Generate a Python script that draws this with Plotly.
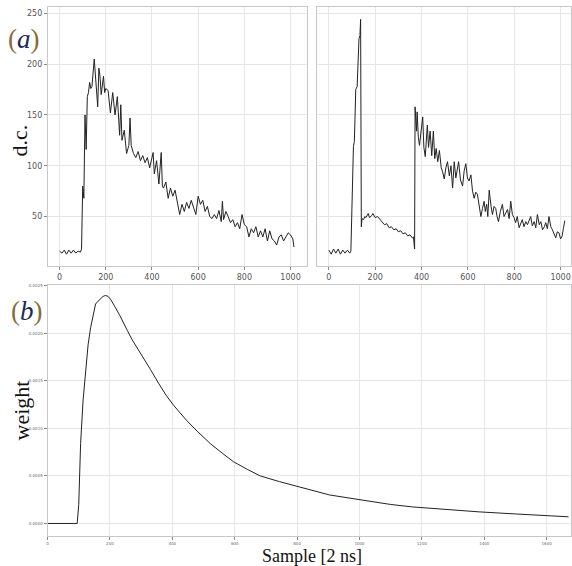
import plotly.graph_objects as go

# ---------------- data ----------------
left_x = [0, 10, 20, 30, 40, 50, 60, 70, 80, 90, 95, 100, 105, 110, 115, 120, 125, 130, 135, 140,
          150, 155, 160, 165, 170, 175, 180, 185, 190, 195, 200, 210, 220, 230, 240, 250, 260, 265,
          270, 280, 290, 300, 305, 310, 320, 330, 340, 350, 360, 370, 380, 390, 400, 405, 410, 420,
          430, 440, 445, 450, 460, 470, 480, 490, 500, 510, 520, 530, 540, 550, 560, 570, 580, 590,
          600, 610, 620, 630, 640, 650, 660, 670, 680, 690, 700, 705, 710, 720, 730, 740, 750, 760,
          770, 780, 790, 800, 810, 820, 830, 840, 850, 860, 870, 880, 890, 900, 910, 920, 930, 940,
          950, 960, 970, 980, 990, 1000, 1010, 1015]
left_y = [16, 14, 17, 13, 17, 14, 17, 14, 16, 15, 18, 80, 68, 150, 116, 168, 172, 182, 176, 178,
          205, 185, 178, 158, 196, 188, 170, 180, 188, 172, 176, 174, 152, 172, 150, 168, 130, 160,
          125, 135, 112, 120, 147, 120, 112, 108, 114, 105, 110, 103, 108, 98, 110, 113, 92, 105,
          82, 113, 80, 78, 84, 68, 78, 70, 76, 62, 52, 62, 55, 64, 58, 66, 60, 52,
          70, 62, 66, 55, 60, 50, 48, 52, 48, 56, 45, 65, 47, 55, 50, 44, 47, 40,
          44, 38, 52, 42, 40, 30, 38, 34, 40, 30, 36, 30, 38, 26, 36, 28, 26, 22,
          30, 32, 26, 30, 34, 32, 28, 20]

right_x = [0, 10, 20, 30, 40, 50, 60, 70, 80, 90, 95, 100, 106, 110, 116, 122, 126, 130, 134, 137,
           140, 143, 150, 155, 160, 170, 175, 185, 190, 200, 210, 220, 230, 240, 250, 260, 270, 280,
           290, 300, 310, 320, 330, 340, 350, 360, 365, 370, 372, 378, 381, 386, 391, 398, 405, 410,
           416, 425, 430, 437, 444, 451, 457, 463, 470, 477, 485, 491, 498, 505, 512, 520, 527, 534,
           541, 548, 554, 560, 568, 577, 584, 591, 598, 605, 613, 620, 627, 634, 641, 648, 656, 663,
           670, 675, 681, 686, 692, 700, 706, 713, 720, 726, 732, 740, 749, 756, 763, 771, 778, 785,
           792, 799, 806, 813, 821, 828, 835, 842, 850, 857, 864, 871, 878, 886, 893, 900, 908, 915,
           922, 930, 936, 943, 950, 958, 965, 972, 979, 986, 993, 1000, 1007, 1012, 1018]
right_y = [17, 13, 18, 14, 18, 13, 17, 14, 17, 14, 16, 70, 119, 124, 175, 178, 205, 225, 228, 244,
           40, 48, 47, 50, 49, 53, 49, 51, 53, 49, 50, 47, 45, 42, 43, 39, 40, 37,
           38, 35, 36, 33, 34, 31, 32, 29, 30, 18, 158, 134, 153, 128, 120, 138, 148, 118,
           109, 140, 118, 134, 110, 134, 107, 117, 104, 115, 98, 94, 87, 98, 104, 90, 100, 78,
           104, 88, 96, 104, 86, 80, 95, 102, 88, 85, 91, 75, 68, 74, 72, 60, 50, 58,
           65, 55, 62, 50, 76, 60, 52, 60, 58, 50, 45, 55, 62, 50, 54, 57, 48, 65,
           52, 49, 44, 50, 39, 44, 47, 40, 45, 42, 46, 50, 41, 45, 39, 52, 42, 45,
           37, 40, 44, 38, 50, 40, 37, 33, 29, 35, 34, 28, 31, 38, 46]

weight_x = [0, 50, 95, 100, 106, 114, 122, 130, 138, 146, 154, 162, 170, 178, 186, 194, 202, 210,
            218, 230, 245, 256, 270, 293, 310, 330, 357, 380, 405, 425, 447, 480, 522, 560, 596,
            640, 682, 744, 800, 904, 1011, 1100, 1170, 1280, 1383, 1500, 1596, 1670]
weight_y = [0, 0, 0, 0.0002, 0.00084, 0.0013, 0.00161, 0.00188, 0.00206, 0.0022, 0.00231, 0.00234,
            0.00236, 0.00239, 0.0024, 0.00239, 0.00236, 0.00232, 0.00227, 0.0022, 0.00211, 0.00203,
            0.00194, 0.00182, 0.00172, 0.00162, 0.00147, 0.00135, 0.00124, 0.00116, 0.00108,
            0.00097, 0.00084, 0.00074, 0.00065, 0.00057, 0.0005, 0.00044, 0.00039, 0.0003,
            0.000245, 0.0002, 0.000174, 0.000145, 0.000122, 0.0001, 0.000087, 0.00007]

top_xticks = [0, 200, 400, 600, 800, 1000]
top_yticks = [50, 100, 150, 200, 250]
bot_xticks = [0, 200, 400, 600, 800, 1000, 1200, 1400, 1600]
bot_yticks = [0.0, 0.0005, 0.0010, 0.0015, 0.0020, 0.0025]

W, H = 572, 566

def px(x):
    return x / W

def py(y):
    return 1 - y / H

line = dict(color="#222222", width=1)
fig = go.Figure()
fig.add_trace(go.Scatter(x=left_x, y=left_y, mode="lines", line=line, xaxis="x", yaxis="y"))
fig.add_trace(go.Scatter(x=right_x, y=right_y, mode="lines", line=line, xaxis="x2", yaxis="y2"))
fig.add_trace(go.Scatter(x=weight_x, y=weight_y, mode="lines", line=line, xaxis="x3", yaxis="y3"))

tickfont = dict(family="DejaVu Sans", size=8, color="#555555")
tinyfont = dict(family="DejaVu Sans", size=4, color="#666666")
common = dict(showline=True, linecolor="#c8c8c8", linewidth=1, mirror=True,
              showgrid=True, gridcolor="#e6e6e6", gridwidth=1, zeroline=False,
              ticks="outside", ticklen=3, tickcolor="#888888")

fig.update_layout(
    width=W, height=H, margin=dict(l=0, r=0, t=0, b=0),
    paper_bgcolor="white", plot_bgcolor="white", showlegend=False,
    xaxis=dict(domain=[px(47), px(307)], range=[-51, 1071], tickvals=top_xticks,
               tickfont=tickfont, anchor="y", **common),
    yaxis=dict(domain=[py(265), py(5)], range=[1.3, 256.2], tickvals=top_yticks,
               tickfont=tickfont, anchor="x", **common),
    xaxis2=dict(domain=[px(316.7), 1.0], range=[-53, 1045], tickvals=top_xticks,
                tickfont=tickfont, anchor="y2", **common),
    yaxis2=dict(domain=[py(265), py(5)], range=[1.3, 256.2], tickvals=top_yticks,
                showticklabels=False, anchor="x2", **common),
    xaxis3=dict(domain=[px(46.7), 1.0], range=[0, 1678], tickvals=bot_xticks,
                tickfont=tinyfont, anchor="y3", **common),
    yaxis3=dict(domain=[py(535.7), py(284)], range=[-0.00013, 0.00251], tickvals=bot_yticks,
                tickformat=".4f", tickfont=tinyfont, anchor="x3", **common),
)
fig.update_layout(yaxis2=dict(ticks=""))

serif = "Liberation Serif"
ann = [
    dict(text='<span style="color:#8a6a3a">(</span><i><span style="color:#1c2c55">a</span></i><span style="color:#8a6a3a">)</span>',
         x=px(23), y=py(37), font=dict(family=serif, size=27)),
    dict(text='<span style="color:#8a6a3a">(</span><i><span style="color:#1c2c55">b</span></i><span style="color:#8a6a3a">)</span>',
         x=px(26), y=py(310), font=dict(family=serif, size=27)),
    dict(text="d.c.", x=px(19), y=py(139), textangle=-90,
         font=dict(family=serif, size=22, color="#111111")),
    dict(text="weight", x=px(21), y=py(410), textangle=-90,
         font=dict(family=serif, size=22, color="#111111")),
    dict(text="Sample [2 ns]", x=px(312), y=py(555.5),
         font=dict(family=serif, size=18, color="#111111")),
]
for a in ann:
    fig.add_annotation(xref="paper", yref="paper", showarrow=False,
                       xanchor="center", yanchor="middle", **a)

fig.write_html("out.html", config={"displayModeBar": False},
               post_script="document.body.style.margin='0';document.body.style.overflow='hidden';")
